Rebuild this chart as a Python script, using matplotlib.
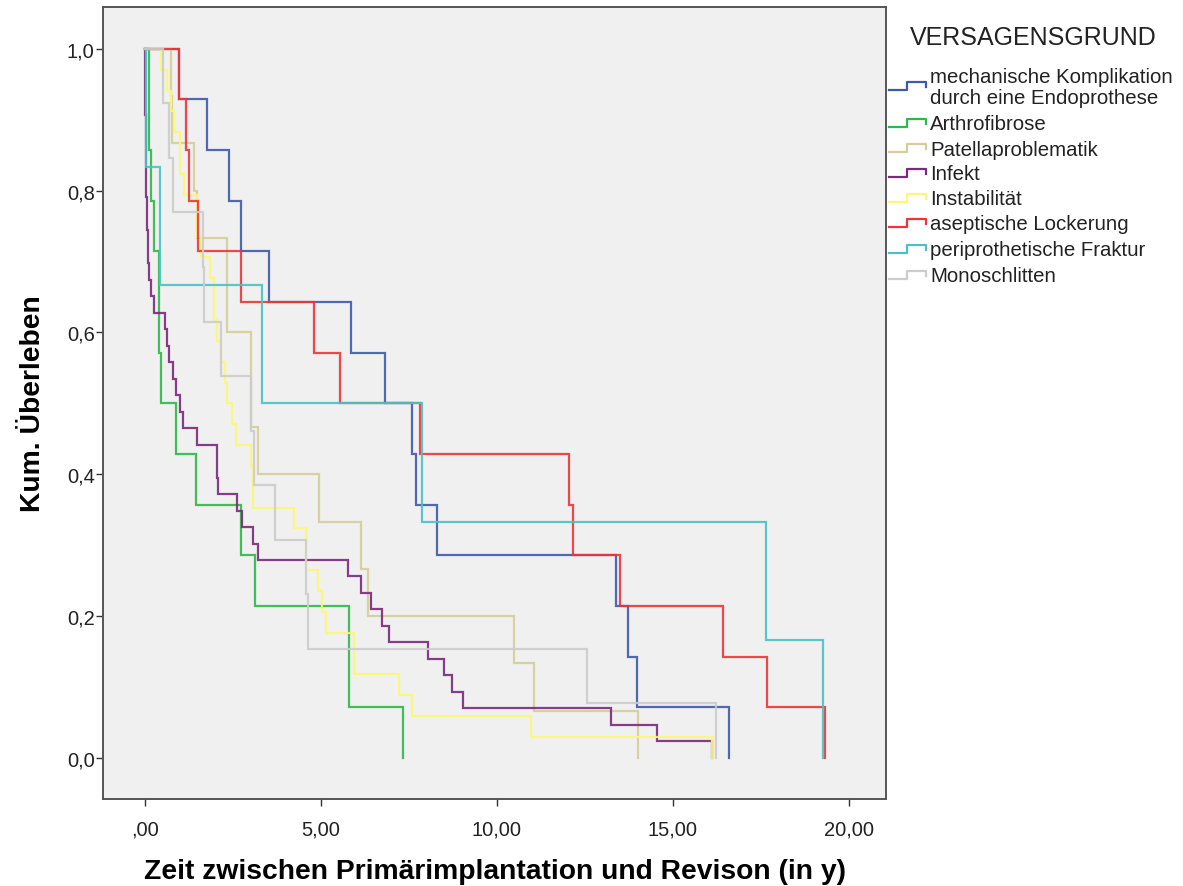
import numpy as np
import matplotlib
matplotlib.use("Agg")
import matplotlib.pyplot as plt
from matplotlib.lines import Line2D

plt.rcParams['font.family'] = ['Liberation Sans', 'DejaVu Sans']

# Failure reasons (legend order) and their line colours
groups = [
    "mechanische Komplikation\ndurch eine Endoprothese",
    "Arthrofibrose",
    "Patellaproblematik",
    "Infekt",
    "Instabilität",
    "aseptische Lockerung",
    "periprothetische Fraktur",
    "Monoschlitten",
]
colors = ["#3E58AC", "#2EB848", "#D3CE97", "#7C287D",
          "#FBF873", "#EF3338", "#48C2C5", "#CCCCCC"]

# Time from primary implantation to revision (years), one entry per case
t_mechanisch = [0.96, 1.76, 2.39, 2.73, 3.53, 5.85, 6.82, 7.59, 7.69, 8.31,
                13.38, 13.71, 13.99, 16.59]
t_arthrofibrose = [0.11, 0.11, 0.16, 0.26, 0.40, 0.40, 0.47, 0.87, 1.45, 2.73,
                   3.13, 5.80, 5.80, 7.34]
t_patella = [0.74, 0.76, 1.40, 1.47, 2.34, 2.34, 3.01, 3.01, 3.20, 4.94,
             6.13, 6.34, 10.49, 11.06, 14.01]
t_infekt = [0.01, 0.01, 0.01, 0.01, 0.02, 0.02, 0.02, 0.03, 0.04, 0.05,
            0.06, 0.08, 0.09, 0.12, 0.16, 0.26, 0.57, 0.62, 0.69, 0.80,
            0.88, 0.99, 1.09, 1.48, 2.04, 2.04, 2.08, 2.61, 2.75, 3.08,
            3.20, 5.78, 6.14, 6.42, 6.74, 6.93, 8.05, 8.49, 8.71, 9.04,
            13.24, 14.54, 16.10]
t_instabilitaet = [0.47, 0.63, 0.75, 0.84, 1.00, 1.00, 1.10, 1.48, 1.48, 1.59,
                   1.85, 1.97, 1.97, 2.04, 2.15, 2.27, 2.32, 2.46, 2.60, 3.00,
                   3.07, 3.07, 4.23, 4.57, 4.59, 4.92, 5.04, 5.13, 5.95, 5.95,
                   7.22, 7.59, 10.97, 16.10]
t_lockerung = [0.96, 1.16, 1.26, 1.51, 2.73, 4.81, 5.54, 7.81, 12.04, 12.16,
               13.49, 16.43, 17.68, 19.32]
t_fraktur = [0.04, 0.44, 3.34, 7.87, 17.63, 19.25]
t_monoschlitten = [0.51, 0.68, 0.80, 1.64, 1.68, 2.16, 3.00, 3.10, 3.69, 4.57,
                   4.64, 12.55, 16.21]

series = [t_mechanisch, t_arthrofibrose, t_patella, t_infekt,
          t_instabilitaet, t_lockerung, t_fraktur, t_monoschlitten]

x_ticks = [0, 5, 10, 15, 20]
x_labels = [",00", "5,00", "10,00", "15,00", "20,00"]
y_ticks = [0.0, 0.2, 0.4, 0.6, 0.8, 1.0]
y_labels = ["0,0", "0,2", "0,4", "0,6", "0,8", "1,0"]


def kaplan_meier(times):
    t = np.sort(np.asarray(times, dtype=float))
    ut, counts = np.unique(t, return_counts=True)
    surv = 1.0 - np.cumsum(counts) / len(t)
    return np.concatenate([[0.0], ut]), np.concatenate([[1.0], surv])


W, H = 1183, 887
fig = plt.figure(figsize=(W / 100, H / 100), dpi=100)
fig.patch.set_facecolor("white")

left, right, top, bottom = 103, 886, 8, 800
ax = fig.add_axes([left / W, 1 - bottom / H, (right - left) / W, (bottom - top) / H])
ax.set_facecolor("#F0F0F0")

for times, col in zip(series, colors):
    x, y = kaplan_meier(times)
    ax.step(x, y, where="post", color=col, lw=1.6, alpha=0.9,
            solid_joinstyle="miter")

ax.set_xlim(-1.19, 21.05)
ax.set_ylim(-0.058, 1.059)
ax.set_xticks(x_ticks)
ax.set_xticklabels(x_labels)
ax.set_yticks(y_ticks)
ax.set_yticklabels(y_labels)
ax.tick_params(axis="both", direction="out", length=5, width=1,
               color="#333333", labelsize=14.5, labelcolor="#222222")
ax.tick_params(axis="x", pad=10)
ax.tick_params(axis="y", pad=1)
for s in ax.spines.values():
    s.set_color("#555555")
    s.set_linewidth(1.4)

ax.set_xlabel("Zeit zwischen Primärimplantation und Revison (in y)",
              fontsize=20.3, fontweight="bold", labelpad=14)
ax.set_ylabel("Kum. Überleben", fontsize=20.3, fontweight="bold", labelpad=15)


def fx(px):
    return px / W


def fy(py):
    return 1 - py / H


# Legend drawn at the right of the plot frame
fig.text(fx(910), fy(38), "VERSAGENSGRUND", fontsize=18, color="#222222",
         va="center", ha="left")

entry_y = [87, 124, 149, 174, 199, 224, 250, 276]
for label, col, yc in zip(groups, colors, entry_y):
    lx = [889, 907, 907, 926, 926]
    ly = [yc + 3.5, yc + 3.5, yc - 4.5, yc - 4.5, yc + 1]
    fig.add_artist(Line2D([fx(v) for v in lx], [fy(v) for v in ly],
                          color=col, lw=1.6, transform=fig.transFigure))
    fig.text(fx(930), fy(yc + 1), label, fontsize=14.7, color="#222222",
             va="center", ha="left", linespacing=1.12)

fig.savefig("out.png", dpi=100)
